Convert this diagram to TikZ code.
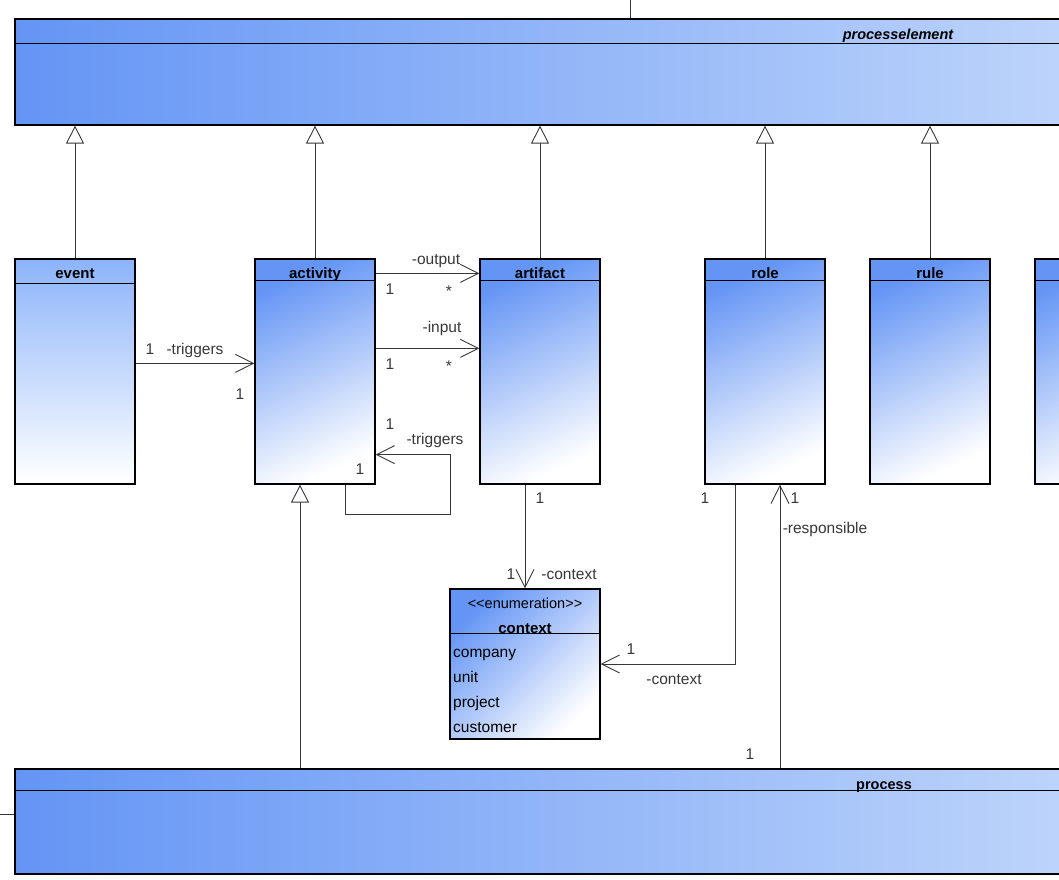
\documentclass[tikz,border=0pt]{standalone}
\usepackage{fontspec}
\setmainfont{Liberation Sans}
\usetikzlibrary{arrows.meta}
\definecolor{umlblue}{RGB}{100,149,245}
\definecolor{umlpale}{RGB}{192,214,251}
\definecolor{eventblue}{RGB}{140,180,250}
\definecolor{wire}{RGB}{55,55,55}
\tikzset{
  classbox/.style={draw=black, line width=1.2pt, inner sep=0pt, minimum width=120pt, minimum height=225pt, top color=umlblue, bottom color=white, shading angle=25},
  barbox/.style={draw=black, line width=1.2pt, inner sep=0pt, minimum width=1085pt, minimum height=106pt, left color=umlblue, right color=umlpale},
  divider/.style={draw=black, line width=1.2pt},
  classname/.style={font=\fontsize{15}{18}\selectfont\bfseries, inner sep=0pt, anchor=base},
  barname/.style={font=\fontsize{14.5}{18}\selectfont\bfseries, inner sep=0pt, anchor=base},
  rolename/.style={text=wire, font=\fontsize{15.5}{18}\selectfont, inner sep=0pt, text height=11pt, text depth=0pt},
  literal/.style={font=\fontsize{15.5}{18}\selectfont, inner sep=0pt, anchor=base west},
  plain/.style={draw=wire, line width=0.9pt},
  assoc/.style={plain, -{Straight Barb[length=18pt, width=18pt, line width=0.9pt]}},
  inherit/.style={plain, -{Triangle[open, fill=white, length=18pt, width=18pt, line width=0.9pt]}},
}
\begin{document}
\begin{tikzpicture}[x=1pt, y=-1pt]
	\useasboundingbox (0,0) rectangle (1059,879);
	% Classes:
	\node[barbox] (pe) at (557.5,72) {};
	\node[barbox, minimum height=105pt] (process) at (557.5,821.5) {};
	\node[classbox, top color=eventblue] (event) at (75,371.5) {};
	\node[classbox] (activity) at (315,371.5) {};
	\node[classbox] (artifact) at (540,371.5) {};
	\node[classbox] (role) at (765,371.5) {};
	\node[classbox] (rule) at (930,371.5) {};
	\node[classbox] (more) at (1095,371.5) {};
	\node[classbox, minimum width=150pt, minimum height=150pt, shading angle=45] (context) at (525,664) {};
	% Compartments:
	\draw[divider] ([yshift=-25pt]pe.north west) -- ([yshift=-25pt]pe.north east);
	\draw[divider] ([yshift=-22pt]process.north west) -- ([yshift=-22pt]process.north east);
	\draw[divider] ([yshift=-25pt]event.north west) -- ([yshift=-25pt]event.north east);
	\draw[divider] ([yshift=-22pt]activity.north west) -- ([yshift=-22pt]activity.north east);
	\draw[divider] ([yshift=-22pt]artifact.north west) -- ([yshift=-22pt]artifact.north east);
	\draw[divider] ([yshift=-22pt]role.north west) -- ([yshift=-22pt]role.north east);
	\draw[divider] ([yshift=-22pt]rule.north west) -- ([yshift=-22pt]rule.north east);
	\draw[divider] ([yshift=-22pt]more.north west) -- ([yshift=-22pt]more.north east);
	\draw[divider] ([yshift=-45pt]context.north west) -- ([yshift=-45pt]context.north east);
	% Names and literals:
	\node[barname, font=\fontsize{14.5}{18}\selectfont\bfseries\itshape] (pename) at (898,39) {processelement};
	\node[barname] (processname) at (884,789) {process};
	\node[classname] (eventname) at ([yshift=-20pt]event.north) {event};
	\node[classname] (activityname) at ([yshift=-20pt]activity.north) {activity};
	\node[classname] (artifactname) at ([yshift=-20pt]artifact.north) {artifact};
	\node[classname] (rolename) at ([yshift=-20pt]role.north) {role};
	\node[classname] (rulename) at ([yshift=-20pt]rule.north) {rule};
	\node[literal, anchor=base, font=\fontsize{14.5}{18}\selectfont] (stereo) at (525,608) {<{}<enumeration>{}>};
	\node[classname] (contextname) at (525,633) {context};
	\node[literal] (lit1) at (453,657) {company};
	\node[literal] (lit2) at (453,682) {unit};
	\node[literal] (lit3) at (453,707) {project};
	\node[literal] (lit4) at (453,732) {customer};
	% Generalizations:
	\draw[inherit] (event.north) -- (event.north |- pe.south);
	\draw[inherit] (activity.north) -- (activity.north |- pe.south);
	\draw[inherit] (artifact.north) -- (artifact.north |- pe.south);
	\draw[inherit] (role.north) -- (role.north |- pe.south);
	\draw[inherit] (rule.north) -- (rule.north |- pe.south);
	\coordinate (spec) at ([xshift=-15pt]activity.south);
	\draw[inherit] (spec |- process.north) -- (spec);
	% Associations:
	\draw[assoc] ([yshift=-105pt]event.north east) -- ([yshift=-105pt]activity.north west);
	\draw[assoc] ([yshift=-15pt]activity.north east) -- ([yshift=-15pt]artifact.north west);
	\draw[assoc] ([yshift=-90pt]activity.north east) -- ([yshift=-90pt]artifact.north west);
	\draw[assoc] ([xshift=-30pt]activity.south east) -- ++(0,30) -| ([xshift=75pt, yshift=30pt]activity.south east) -- ([yshift=30pt]activity.south east);
	\draw[assoc] ([xshift=-15pt]artifact.south) -- (context.north);
	\draw[assoc] ([xshift=-30pt]role.south) |- (context.east);
	\coordinate (resp) at ([xshift=15pt]role.south);
	\draw[assoc] (resp |- process.north) -- (resp);
	\coordinate (upper) at (630,0);
	\draw[plain] (upper) -- (upper |- pe.north);
	\coordinate (lower) at (0,814);
	\draw[plain] (lower) -- (lower -| process.west);
	% Role names and multiplicities:
	\node[rolename] (m1) at (150,349) {1};
	\node[rolename] (r1) at (195,349) {-triggers};
	\node[rolename] (m2) at (240,394) {1};
	\node[rolename] (r2) at (436,259) {-output};
	\node[rolename] (m3) at (390,289) {1};
	\node[rolename] (m4) at (449,291) {*};
	\node[rolename] (r3) at (442,327) {-input};
	\node[rolename] (m5) at (390,364) {1};
	\node[rolename] (m6) at (449,366) {*};
	\node[rolename] (m7) at (390,424) {1};
	\node[rolename] (r4) at (435,439) {-triggers};
	\node[rolename] (m8) at (360,469) {1};
	\node[rolename] (m9) at (540,498) {1};
	\node[rolename] (m10) at (511,574) {1};
	\node[rolename] (r5) at (569,574) {-context};
	\node[rolename] (m11) at (705,498) {1};
	\node[rolename] (m12) at (631,649) {1};
	\node[rolename] (r6) at (674,679) {-context};
	\node[rolename] (m13) at (795,498) {1};
	\node[rolename] (r7) at (825,528) {-responsible};
	\node[rolename] (m14) at (750,754) {1};
\end{tikzpicture}
\end{document}
